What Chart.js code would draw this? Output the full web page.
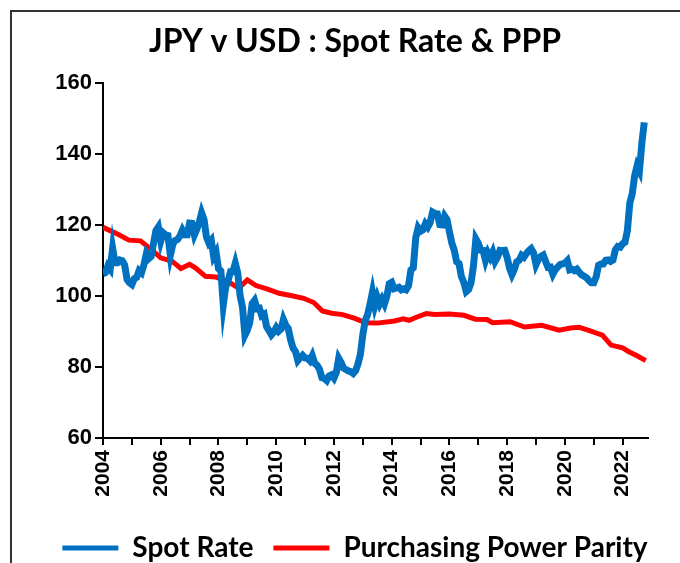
<!DOCTYPE html>
<html>
<head>
<meta charset="utf-8">
<script src="https://cdn.jsdelivr.net/npm/chart.js@4"></script>
<style>
  body { margin: 0; background: #fff; }
  #wrap { position: relative; width: 680px; height: 563px; overflow: hidden; }
  #frame { position: absolute; left: 10px; top: 10px; right: -5px; bottom: -5px; border-left: 2px solid #333; border-top: 2px solid #333; }
  #chart { position: absolute; left: 0; top: 0; }
</style>
</head>
<body>
<div id="wrap">
  <div id="frame"></div>
  <canvas id="chart" width="680" height="563"></canvas>
</div>
<script>
// spot rate, monthly (Jan 2004 .. Oct 2022)
const spotStartYear = 2004
const spotMonthly = [
  106.3, 106.6, 108.5, 107.6, 113.5, 109.4, 109.4, 110.2, 110.0, 108.8, 104.7, 103.8, // 2004
  103.3, 104.9, 105.3, 107.2, 106.6, 108.8, 111.9, 110.6, 111.2, 114.9, 118.5, 119.5, // 2005
  115.5, 117.9, 117.3, 117.1, 111.5, 114.6, 115.7, 116.0, 117.0, 118.6, 117.3, 117.3, // 2006
  120.6, 120.5, 117.3, 118.9, 120.8, 123.5, 121.6, 116.7, 115.0, 115.8, 111.2, 112.4, // 2007
  107.8, 107.1, 97.5, 102.6, 104.4, 106.9, 106.9, 109.3, 106.6, 100.1, 96.9, 89.0,    // 2008
  90.4, 92.5, 97.9, 98.8, 96.5, 96.6, 94.5, 94.9, 91.4, 90.3, 89.1, 89.9,             // 2009
  91.1, 90.1, 90.7, 93.4, 91.8, 90.9, 87.7, 85.4, 84.4, 81.8, 82.6, 83.3,             // 2010
  82.6, 82.5, 81.8, 83.2, 81.1, 80.5, 79.4, 77.0, 76.8, 76.2, 77.5, 77.8,             // 2011
  76.9, 78.5, 82.5, 81.3, 79.7, 79.3, 78.9, 78.7, 78.2, 79.0, 80.9, 83.6,             // 2012
  89.1, 93.1, 94.8, 97.7, 101.1, 97.3, 99.7, 97.8, 99.2, 97.8, 100.0, 103.5,          // 2013
  103.9, 102.1, 102.3, 102.5, 101.8, 102.1, 101.8, 102.9, 107.4, 108.0, 116.4, 119.3, // 2014
  118.3, 118.7, 120.4, 119.5, 120.8, 123.7, 123.3, 123.2, 120.2, 120.1, 122.6, 121.6, // 2015
  118.2, 115.0, 113.0, 109.7, 109.2, 105.5, 103.9, 101.3, 101.9, 103.8, 108.5, 116.1, // 2016
  114.9, 113.0, 112.9, 110.1, 112.2, 110.9, 112.4, 109.8, 111.0, 112.9, 112.8, 112.9, // 2017
  110.9, 107.9, 106.1, 107.6, 109.7, 110.1, 111.5, 111.0, 112.0, 112.8, 113.4, 112.2, // 2018
  108.9, 110.4, 111.2, 111.6, 109.8, 108.1, 108.2, 106.2, 107.5, 108.2, 108.9, 109.1, // 2019
  109.3, 110.0, 107.4, 107.6, 107.2, 107.6, 106.7, 106.0, 105.6, 105.2, 104.4, 103.8, // 2020
  103.8, 105.4, 108.7, 109.1, 109.1, 110.1, 110.2, 109.8, 110.2, 113.1, 114.0, 113.8, // 2021
  114.8, 115.2, 118.5, 126.3, 128.8, 133.9, 136.7, 135.3, 143.1, 149.0                // 2022
]

// purchasing power parity, read at the turning points of the red line
const pppYears = [2004.0, 2004.5, 2004.9, 2005.3, 2005.7, 2006.0, 2006.4, 2006.7, 2007.0, 2007.2, 2007.55, 2007.9,
  2008.4, 2008.7, 2009.0, 2009.3, 2009.7, 2010.1, 2010.5, 2010.95, 2011.3, 2011.6, 2011.92, 2012.3,
  2012.7, 2013.1, 2013.5, 2014.1, 2014.4, 2014.6, 2014.9, 2015.2, 2015.5, 2016.0, 2016.5, 2016.9,
  2017.3, 2017.5, 2018.1, 2018.6, 2019.2, 2019.8, 2020.2, 2020.5, 2020.8, 2021.3, 2021.6, 2022.0,
  2022.2, 2022.5, 2022.8]
const pppValues = [119.4, 117.5, 115.8, 115.6, 113.0, 110.8, 109.8, 107.8, 109.0, 108.0, 105.6, 105.4,
  103.8, 102.2, 104.6, 103.0, 102.0, 100.8, 100.2, 99.4, 98.2, 95.8, 95.2, 94.8,
  93.8, 92.5, 92.4, 93.0, 93.6, 93.2, 94.2, 95.1, 94.8, 95.0, 94.6, 93.5,
  93.4, 92.5, 92.8, 91.3, 91.8, 90.4, 91.0, 91.2, 90.4, 89.0, 86.2, 85.4,
  84.4, 83.2, 81.8]

const yMin = 60
const yMax = 160
const xMin = 2004
const xMax = 2022.88

const spotPoints = spotMonthly.map((v, i) => ({ x: spotStartYear + i / 12, y: v }))
const pppPoints = pppValues.map((v, i) => ({ x: pppYears[i], y: v }))

const context = document.getElementById('chart').getContext('2d')
const chart = new Chart(context, {
    type: 'line',
    data: {
        datasets: [
            {
                label: 'Spot Rate',
                data: spotPoints,
                borderColor: '#0070C0',
                backgroundColor: '#0070C0',
                borderWidth: 7,
                pointRadius: 0,
                tension: 0
            },
            {
                label: 'Purchasing Power Parity',
                data: pppPoints,
                borderColor: '#FF0000',
                backgroundColor: '#FF0000',
                borderWidth: 5,
                pointRadius: 0,
                tension: 0
            }
        ]
    },
    options: {
        responsive: false,
        animation: false,
        layout: {
            padding: { left: 30, right: 0, top: 22, bottom: -9 }
        },
        scales: {
            x: {
                type: 'linear',
                min: xMin,
                max: xMax,
                afterBuildTicks: (axis) => {
                    const ticks = []
                    for(let yr = 2004; yr <= 2022; yr++){
                        ticks.push({ value: yr })
                    }
                    axis.ticks = ticks
                },
                afterFit: (axis) => { axis.height = 76 },
                ticks: {
                    autoSkip: false,
                    minRotation: 90,
                    maxRotation: 90,
                    padding: 5,
                    color: '#000',
                    font: { family: 'Liberation Sans', size: 21, weight: 'bold' },
                    callback: (value) => (value % 2 === 0 ? String(value) : '')
                },
                grid: {
                    drawOnChartArea: false,
                    drawTicks: true,
                    tickLength: 7,
                    color: '#000',
                    lineWidth: 2
                },
                border: { color: '#000', width: 2 }
            },
            y: {
                min: yMin,
                max: yMax,
                afterFit: (axis) => { axis.width = 73 },
                ticks: {
                    stepSize: 20,
                    padding: 3,
                    color: '#000',
                    font: { family: 'Liberation Sans', size: 22, weight: 'bold' }
                },
                grid: {
                    drawOnChartArea: false,
                    drawTicks: true,
                    tickLength: 8,
                    color: '#000',
                    lineWidth: 2
                },
                border: { color: '#000', width: 2 }
            },
            // empty axis on the right, only keeps room free
            yRight: {
                position: 'right',
                display: true,
                afterFit: (axis) => { axis.width = 32 },
                ticks: { display: false },
                grid: { display: false },
                border: { display: false }
            }
        },
        plugins: {
            legend: {
                position: 'bottom',
                labels: {
                    color: '#000',
                    boxWidth: 56,
                    boxHeight: 5,
                    padding: 20,
                    font: { family: 'Lato', size: 28, weight: 'bold' },
                    generateLabels: (chart) => Chart.defaults.plugins.legend.labels.generateLabels(chart)
                        .map(item => ({ ...item, lineWidth: 0 }))
                }
            },
            title: {
                display: true,
                text: 'JPY v USD : Spot Rate & PPP',
                color: '#000',
                padding: { top: 0, bottom: 23 },
                font: { family: 'Lato', size: 32, weight: 'bold' }
            },
            tooltip: { enabled: false }
        }
    }
})
</script>
</body>
</html>
